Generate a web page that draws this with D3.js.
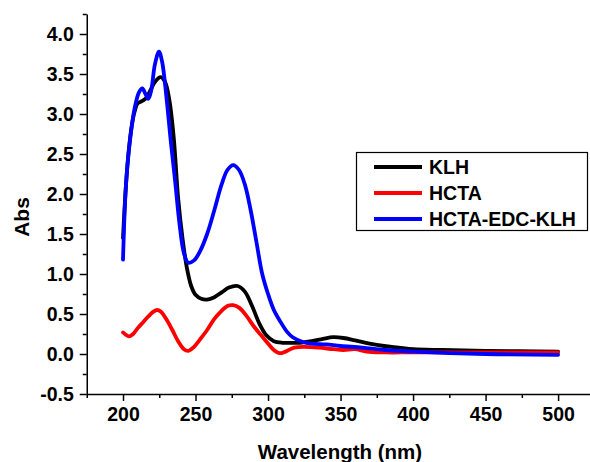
<!DOCTYPE html>
<html lang="en">
<head>
    <meta charset="utf-8">
    <title>Abs spectra</title>
    <script src="https://d3js.org/d3.v7.min.js" charset="utf-8"></script>
    <style type="text/css">
        body { margin: 0; background: #fff; }
        text { font-family: "Liberation Sans", Arial, sans-serif; font-weight: bold; }
        .axis path, .axis line { stroke: #000; stroke-width: 1.5px; }
        .axis text { font-size: 19.5px; fill: #000; }
    </style>
</head>
<body>
<script type="text/javascript">

    var w = 590;
    var h = 462;

    // KLH
    var klhWl  = [200, 202, 204, 206, 208, 210, 213, 216, 219, 222, 226, 229, 232, 235, 238, 241, 244, 247, 250, 254, 258, 263, 268, 273, 279, 284, 289, 294, 299, 304, 310, 316, 322, 330, 338, 345, 352, 360, 370, 380, 390, 400, 420, 450, 500];
    var klhAbs = [1.45, 2.1, 2.55, 2.85, 3.03, 3.13, 3.16, 3.2, 3.3, 3.4, 3.46, 3.4, 3.17, 2.7, 1.95, 1.45, 1.08, 0.85, 0.74, 0.69, 0.68, 0.71, 0.77, 0.83, 0.85, 0.78, 0.6, 0.38, 0.23, 0.16, 0.14, 0.14, 0.14, 0.16, 0.19, 0.21, 0.2, 0.17, 0.13, 0.1, 0.08, 0.06, 0.05, 0.04, 0.03];

    // HCTA
    var hctaWl  = [200, 202, 204, 207, 210, 214, 218, 221, 223.5, 226, 230, 234, 238, 242, 245, 249, 253, 258, 263, 268, 272, 276, 280, 285, 290, 295, 300, 304, 308, 312, 318, 325, 335, 345, 352, 360, 368, 380, 400, 450, 500];
    var hctaAbs = [0.27, 0.24, 0.22, 0.25, 0.32, 0.4, 0.48, 0.53, 0.55, 0.53, 0.43, 0.3, 0.16, 0.06, 0.04, 0.09, 0.18, 0.3, 0.44, 0.54, 0.6, 0.61, 0.58, 0.48, 0.35, 0.24, 0.13, 0.05, 0.01, 0.03, 0.08, 0.09, 0.08, 0.06, 0.05, 0.06, 0.03, 0.02, 0.02, 0.02, 0.02];

    // HCTA-EDC-KLH
    var conjWl  = [200, 201.5, 203, 205, 208, 211, 213.3, 215.5, 217.5, 219.5, 222, 224.8, 227, 230, 233, 236, 239, 242, 245, 249, 253, 258, 263, 268, 272, 276, 280, 284, 288, 292, 296, 300, 304, 308, 313, 317, 324, 330, 340, 350, 365, 380, 400, 450, 500];
    var conjAbs = [1.18, 1.93, 2.35, 2.7, 3.07, 3.27, 3.32, 3.25, 3.19, 3.3, 3.62, 3.78, 3.65, 3.2, 2.65, 2.15, 1.62, 1.26, 1.14, 1.17, 1.28, 1.5, 1.8, 2.12, 2.3, 2.36, 2.3, 2.12, 1.8, 1.4, 1.0, 0.75, 0.55, 0.42, 0.28, 0.21, 0.15, 0.13, 0.12, 0.1, 0.08, 0.05, 0.03, 0.0, -0.01];

    var seriesNames = ["KLH", "HCTA", "HCTA-EDC-KLH"];
    var seriesColors = ["#000000", "#ff0000", "#0000ff"];

    var xMajor = [200, 250, 300, 350, 400, 450, 500];
    var xMinor = [175, 225, 275, 325, 375, 425, 475];
    var yMajor = [-0.5, 0.0, 0.5, 1.0, 1.5, 2.0, 2.5, 3.0, 3.5, 4.0];
    var yMinor = [-0.25, 0.25, 0.75, 1.25, 1.75, 2.25, 2.75, 3.25, 3.75, 4.25];

    var x = d3.scaleLinear().domain([175, 522]).range([86.75, 590]);
    var y = d3.scaleLinear().domain([-0.5, 4.25]).range([394, 14]);

    var svg = d3.select("body").append("svg")
        .attr("width", w)
        .attr("height", h);

    // minor ticks
    svg.append("g").attr("class", "axis")
        .attr("transform", "translate(0,394)")
        .call(d3.axisBottom(x).tickValues(xMinor).tickSize(4).tickFormat(""))
        .select(".domain").remove();
    svg.append("g").attr("class", "axis")
        .attr("transform", "translate(86.75,0)")
        .call(d3.axisLeft(y).tickValues(yMinor).tickSize(4).tickFormat(""))
        .select(".domain").remove();

    // major axes
    svg.append("g").attr("class", "axis")
        .attr("transform", "translate(0,394)")
        .call(d3.axisBottom(x).tickValues(xMajor).tickSizeInner(7).tickSizeOuter(0).tickPadding(6).tickFormat(d3.format("d")));
    svg.append("g").attr("class", "axis")
        .attr("transform", "translate(86.75,0)")
        .call(d3.axisLeft(y).tickValues(yMajor).tickSizeInner(7).tickSizeOuter(0).tickPadding(6)
            .tickFormat(function(d) { return d.toFixed(1); }));

    var line = d3.line()
        .x(function(d) { return x(d[0]); })
        .y(function(d) { return y(d[1]); })
        .curve(d3.curveCatmullRom.alpha(0.5));

    var allSeries = [
        d3.zip(klhWl, klhAbs),
        d3.zip(hctaWl, hctaAbs),
        d3.zip(conjWl, conjAbs)
    ];

    svg.selectAll("path.spec")
        .data(allSeries)
        .enter()
        .append("path")
        .attr("class", "spec")
        .attr("d", line)
        .attr("fill", "none")
        .attr("stroke", function(d, i) { return seriesColors[i]; })
        .attr("stroke-width", 3.8)
        .attr("stroke-linejoin", "round")
        .attr("stroke-linecap", "round");

    // axis titles
    svg.append("text")
        .attr("x", 340)
        .attr("y", 459)
        .attr("text-anchor", "middle")
        .attr("font-size", "20.5px")
        .text("Wavelength (nm)");

    svg.append("text")
        .attr("transform", "translate(29,217) rotate(-90)")
        .attr("text-anchor", "middle")
        .attr("font-size", "21px")
        .text("Abs");

    // legend
    var legend = svg.append("g");
    legend.append("rect")
        .attr("x", 356.5).attr("y", 152.5)
        .attr("width", 231).attr("height", 78)
        .attr("fill", "#fff")
        .attr("stroke", "#000")
        .attr("stroke-width", 1.2);

    var rows = legend.selectAll("g.row")
        .data(seriesNames)
        .enter()
        .append("g")
        .attr("class", "row")
        .attr("transform", function(d, i) { return "translate(0," + (167 + i * 26) + ")"; });

    rows.append("line")
        .attr("x1", 374).attr("x2", 422)
        .attr("y1", 0).attr("y2", 0)
        .attr("stroke", function(d, i) { return seriesColors[i]; })
        .attr("stroke-width", 3.8);

    rows.append("text")
        .attr("x", 429)
        .attr("y", 7)
        .attr("font-size", "19.5px")
        .text(function(d) { return d; });

</script>
</body>
</html>
